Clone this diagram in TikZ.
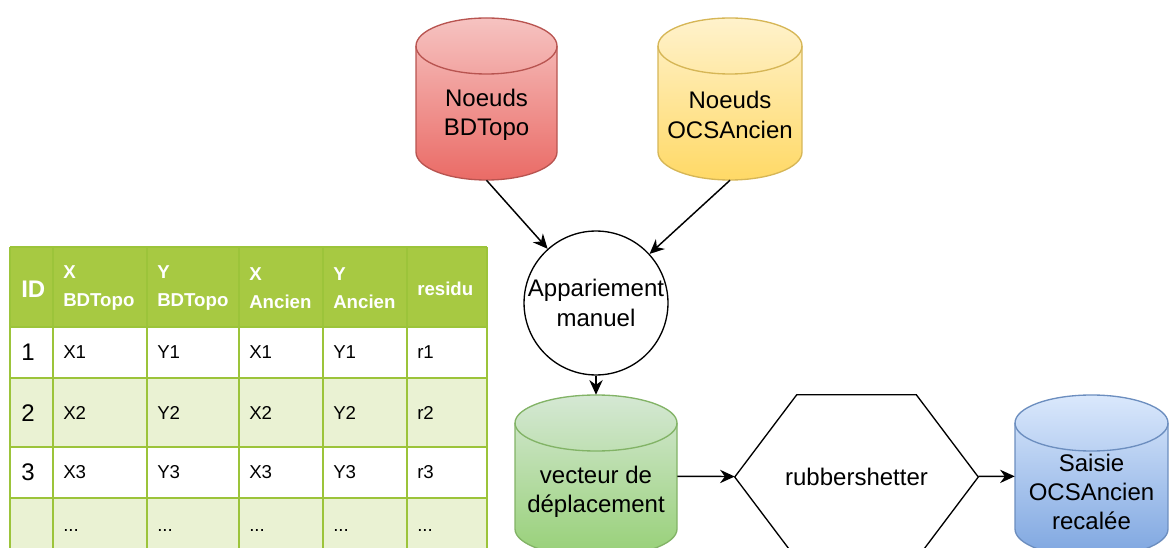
\documentclass[tikz,border=0pt]{standalone}
\usepackage{fontspec}
\setmainfont{Liberation Sans}
\usetikzlibrary{arrows.meta,positioning}

\definecolor{redtop}{HTML}{F6C3C1}
\definecolor{redbot}{HTML}{EA6B66}
\definecolor{redline}{HTML}{B85450}
\definecolor{yeltop}{HTML}{FFF2CC}
\definecolor{yelbot}{HTML}{FFD966}
\definecolor{yelline}{HTML}{D6B656}
\definecolor{grntop}{HTML}{D5E8D4}
\definecolor{grnbot}{HTML}{97D077}
\definecolor{grnline}{HTML}{82B366}
\definecolor{blutop}{HTML}{DAE8FC}
\definecolor{blubot}{HTML}{7EA6E0}
\definecolor{bluline}{HTML}{6C8EBF}
\definecolor{tabhead}{HTML}{A7C942}
\definecolor{tabrule}{HTML}{9CC43A}
\definecolor{tabalt}{HTML}{EAF2D3}

\tikzset{
  dbnode/.style={rectangle, inner sep=0pt},
  dbtext/.style={align=center, inner sep=0pt, font=\fontsize{18}{22}\selectfont},
  cell/.style={anchor=west, inner sep=0pt, font=\fontsize{14}{17}\selectfont},
  idcell/.style={anchor=west, inner sep=0pt, font=\fontsize{18}{22}\selectfont},
  hdcell/.style={anchor=west, inner sep=0pt, align=left, text=white,
    font=\bfseries\fontsize{14}{21}\selectfont},
  tabline/.style={draw=tabrule, line width=1.5pt},
  flow/.style={->, line width=1.1pt}
}

\begin{document}
\begin{tikzpicture}[x=0.75pt, y=-0.75pt, >={Stealth[length=11pt, width=10pt]}]
\useasboundingbox (0,0) rectangle (1169,548);

% table of matched points
\fill[tabhead] (10,247) rectangle (487,327);
\fill[white] (10,327) rectangle (487,378);
\fill[tabalt] (10,378) rectangle (487,447);
\fill[white] (10,447) rectangle (487,498);
\fill[tabalt] (10,498) rectangle (487,560);
\foreach \x in {10,53,147,239,323,407,487}
  \draw[tabline] (\x,247) -- (\x,560);
\foreach \y in {247,327,378,447,498}
  \draw[tabline] (10,\y) -- (487,\y);
\node[hdcell, font=\bfseries\fontsize{18}{22}\selectfont] (hID) at (21,289) {ID};
\node[hdcell] (hXB) at (63,288) {X\\BDTopo};
\node[hdcell] (hYB) at (157,288) {Y\\BDTopo};
\node[hdcell] (hXA) at (249,288) {X\\Ancien};
\node[hdcell] (hYA) at (333,288) {Y\\Ancien};
\node[hdcell] (hres) at (417,289) {residu};
\foreach \y/\i in {352/1, 413/2, 472/3}{
  \node[idcell] (id\i) at (21,\y) {\i};
  \node[cell] (xb\i) at (63,\y) {X\i};
  \node[cell] (yb\i) at (157,\y) {Y\i};
  \node[cell] (xa\i) at (249,\y) {X\i};
  \node[cell] (ya\i) at (333,\y) {Y\i};
  \node[cell] (r\i) at (417,\y) {r\i};
}
\foreach \x/\c in {63/a, 157/b, 249/c, 333/d, 417/e}
  \node[cell] (dots\c) at (\x,530) {...};

% data stores (cylinders, 162 px high, caps 28 px)
\foreach \name/\x/\y/\w/\col/\txt in {
    bdtopo/486.5/99/141/red/{Noeuds\\BDTopo},
    ocsanc/730/99/144/yel/{Noeuds\\OCSAncien},
    vect/596/476/162/grn/{vecteur de\\déplacement},
    saisie/1091.5/476/153/blu/{Saisie\\OCSAncien\\recalée}}{
  \path[draw=\col line, line width=1pt, top color=\col top, bottom color=\col bot]
    ({\x-\w/2},{\y-53}) -- ({\x-\w/2},{\y+53})
    arc[start angle=180, end angle=0, x radius=\w/2, y radius=28]
    -- ({\x+\w/2},{\y-53})
    arc[start angle=0, end angle=-180, x radius=\w/2, y radius=28] -- cycle;
  \draw[draw=\col line, line width=1pt] ({\x-\w/2},{\y-53})
    arc[start angle=180, end angle=0, x radius=\w/2, y radius=28];
  \node[dbnode, minimum width=\w*0.75pt, minimum height=121.5pt] (\name) at (\x,\y) {};
  \node[dbtext] (\name-txt) at (\x,{\y+16}) {\txt};
}

% matching and transform steps
\node[circle, draw, line width=1pt, minimum size=93pt, inner sep=0pt, align=center,
  font=\fontsize{18}{22}\selectfont] (appar) at (596,303) {Appariement\\manuel};
\node[rectangle, inner sep=0pt, minimum width=182.25pt, minimum height=123pt,
  font=\fontsize{18}{22}\selectfont] (rubber) at (856.5,477) {rubbershetter};
\draw[line width=1pt] (rubber.west) -- ([xshift=46.5pt]rubber.north west)
  -- ([xshift=-46.5pt]rubber.north east) -- (rubber.east)
  -- ([xshift=-46.5pt]rubber.south east) -- ([xshift=46.5pt]rubber.south west) -- cycle;

% flows
\draw[flow] (bdtopo.south) -- (appar);
\draw[flow] (ocsanc.south) -- (appar);
\draw[flow] (appar) -- (vect);
\draw[flow] (vect) -- (rubber);
\draw[flow] (rubber) -- (saisie);
\end{tikzpicture}
\end{document}
